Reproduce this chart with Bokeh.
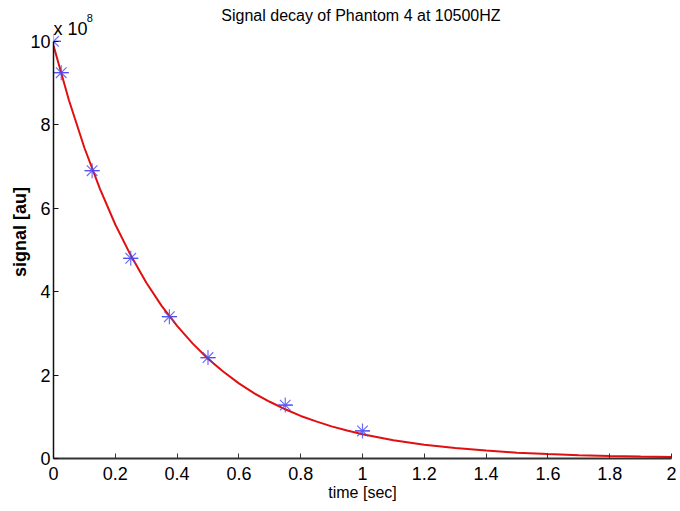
from bokeh.plotting import figure
from bokeh.models import Range1d, FixedTicker, Label
from bokeh.embed import file_html
from bokeh.resources import INLINE

# measured samples (signal in units of 1e8 au)
t_meas = [0.0, 0.025, 0.125, 0.25, 0.375, 0.5, 0.75, 1.0]
s_meas = [10.0, 9.25, 6.9, 4.8, 3.4, 2.42, 1.28, 0.66]

# fitted decay curve
t_fit = [0.0, 0.05, 0.1, 0.15, 0.2, 0.25, 0.3, 0.35, 0.4, 0.45, 0.5, 0.55, 0.6,
         0.65, 0.7, 0.75, 0.8, 0.85, 0.9, 0.95, 1.0, 1.1, 1.2, 1.3, 1.4, 1.5,
         1.6, 1.7, 1.8, 1.9, 2.0]
s_fit = [9.9, 8.59, 7.45, 6.47, 5.61, 4.87, 4.22, 3.66, 3.18, 2.76, 2.39, 2.08,
         1.80, 1.56, 1.36, 1.18, 1.02, 0.89, 0.77, 0.67, 0.58, 0.44, 0.33, 0.25,
         0.19, 0.14, 0.105, 0.08, 0.06, 0.045, 0.034]

x_ticks = [0, 0.2, 0.4, 0.6, 0.8, 1.0, 1.2, 1.4, 1.6, 1.8, 2.0]
x_tick_labels = ["0", "0.2", "0.4", "0.6", "0.8", "1", "1.2", "1.4", "1.6", "1.8", "2"]
y_ticks = [0, 2, 4, 6, 8, 10]
y_tick_labels = ["0", "2", "4", "6", "8", "10"]

title_text = "Signal decay of Phantom 4 at 10500HZ"
FONT = "Liberation Sans"

p = figure(width=680, height=511, output_backend="svg", toolbar_location=None,
           x_range=Range1d(0, 2), y_range=Range1d(0, 10.86),
           min_border_left=53, min_border_right=9, min_border_top=5,
           min_border_bottom=53)
p.outline_line_color = None
p.grid.visible = False
p.background_fill_color = "white"
p.border_fill_color = "white"

p.line(t_fit, s_fit, line_color="#e01010", line_width=2)
p.scatter(t_meas, s_meas, marker="asterisk", size=15, line_color="#4a4af0",
          line_width=1.2, line_alpha=0.8)
p.scatter(t_meas, s_meas, marker="dash", size=15, line_color="#4a4af0",
          line_width=1.2, line_alpha=0.8)

xa = p.xaxis[0]
xa.ticker = FixedTicker(ticks=x_ticks)
xa.major_label_overrides = {float(k): v for k, v in zip(x_ticks, x_tick_labels)}
xa.major_label_overrides.update({int(k): v for k, v in zip(x_ticks, x_tick_labels) if float(k).is_integer()})
xa.minor_tick_line_color = None
xa.major_tick_in = 5
xa.major_tick_out = 0
xa.axis_line_color = "#333333"
xa.axis_line_width = 2
xa.major_tick_line_color = "#333333"
xa.major_label_text_font = FONT
xa.major_label_text_font_size = "18px"
xa.major_label_text_color = "#000000"
xa.major_label_standoff = 8
xa.axis_label = "time [sec]"
xa.axis_label_text_font = FONT
xa.axis_label_text_font_size = "16px"
xa.axis_label_text_font_style = "normal"
xa.axis_label_text_color = "#000000"
xa.axis_label_standoff = 1

ya = p.yaxis[0]
ya.ticker = FixedTicker(ticks=y_ticks)
ya.bounds = (0, 10)
ya.major_label_overrides = {k: v for k, v in zip(y_ticks, y_tick_labels)}
ya.minor_tick_line_color = None
ya.major_tick_in = 5
ya.major_tick_out = 0
ya.axis_line_color = "#111111"
ya.axis_line_width = 1.5
ya.major_tick_line_color = "#111111"
ya.major_label_text_font = FONT
ya.major_label_text_font_size = "18px"
ya.major_label_text_color = "#000000"
ya.major_label_standoff = 3
ya.axis_label = "signal [au]"
ya.axis_label_text_font = FONT
ya.axis_label_text_font_size = "18px"
ya.axis_label_text_font_style = "bold"
ya.axis_label_text_color = "#000000"
ya.axis_label_standoff = -3

p.add_layout(Label(x=0.995, y=10.62, text=title_text, text_font=FONT,
                   text_font_size="16px", text_align="center",
                   text_baseline="middle", text_color="#000000"))
p.add_layout(Label(x=0.0, y=10.3, text="x 10", text_font=FONT,
                   text_font_size="18px", text_align="left",
                   text_baseline="middle", text_color="#000000"))
p.add_layout(Label(x=0.108, y=10.55, text="8", text_font=FONT,
                   text_font_size="11px", text_align="left",
                   text_baseline="middle", text_color="#000000"))

open("out.html", "w").write(file_html(p, INLINE))
